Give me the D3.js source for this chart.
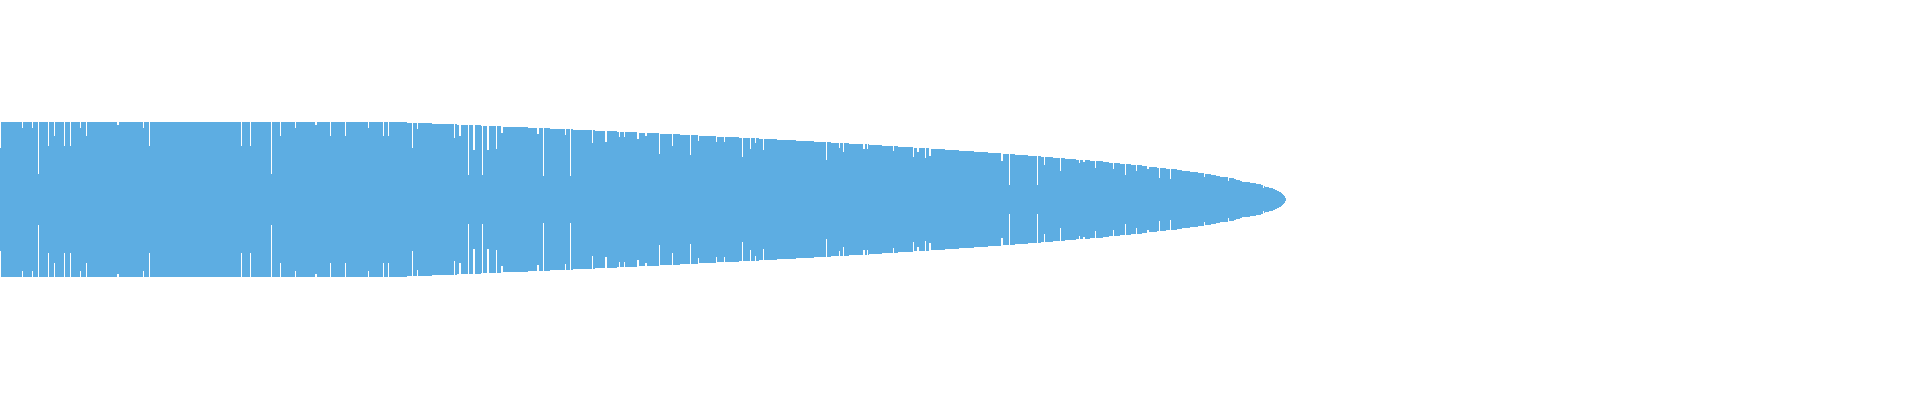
<!DOCTYPE html>
<meta charset="utf-8" />
<script src="https://d3js.org/d3.v7.min.js"></script>
<style>
  body { margin: 0; background: #fff; }
</style>
<div id="chart"></div>
<script>
  // one value per bar, mirrored around the middle line
  const values = [
    /* 0 */ 51,77,77,77,77,77,77,77,77,77, 77,77,77,77,77,77,77,77,77,77,
    /* 20 */ 77,77,71,77,77,77,77,77,77,77, 77,77,71,77,77,77,77,77,25,77,
    /* 40 */ 77,77,77,77,77,77,77,77,53,77, 77,77,77,77,63,77,77,77,77,77,
    /* 60 */ 77,77,77,77,53,77,77,77,77,77, 53,77,77,77,77,77,77,77,77,77,
    /* 80 */ 71,77,77,77,77,77,63,77,77,77, 77,77,77,77,77,77,77,77,77,77,
    /* 100 */ 77,77,77,77,77,77,77,77,77,77, 77,77,77,77,77,77,77,74,74,77,
    /* 120 */ 77,77,77,77,77,77,77,77,77,77, 77,77,77,77,77,77,77,77,77,77,
    /* 140 */ 77,77,77,71,77,77,77,77,77,53, 77,77,77,77,77,77,77,77,77,77,
    /* 160 */ 77,77,77,77,77,77,77,77,77,77, 77,77,77,77,77,77,77,77,77,77,
    /* 180 */ 77,77,77,77,77,77,77,77,77,77, 77,77,77,77,77,77,77,77,77,77,
    /* 200 */ 77,77,77,77,77,77,77,77,77,77, 77,77,77,77,77,77,77,77,77,77,
    /* 220 */ 77,77,77,77,77,77,77,77,77,77, 77,77,77,77,77,77,77,77,77,77,
    /* 240 */ 77,53,77,77,77,77,77,77,77,77, 53,77,77,77,77,77,77,77,77,77,
    /* 260 */ 77,77,77,77,77,77,77,77,77,77, 77,25,77,77,77,77,77,77,77,77,
    /* 280 */ 63,77,77,77,77,77,77,77,77,77, 77,77,77,77,77,71,77,77,77,77,
    /* 300 */ 77,77,77,77,77,77,77,77,77,77, 77,77,77,77,77,74,74,77,77,77,
    /* 320 */ 77,77,77,77,77,77,77,77,77,77, 63,77,77,77,77,77,77,77,77,77,
    /* 340 */ 77,77,77,77,77,63,77,77,77,77, 77,77,77,77,77,77,77,77,77,77,
    /* 360 */ 77,77,77,77,77,77,77,77,71,77, 77,77,77,77,77,77,77,77,77,77,
    /* 380 */ 77,77,77,63,77,77,77,77,63,77, 77,77,77,77,77,77,77,77,77,77,
    /* 400 */ 77,77,77,77,77,77,77,76,76,76, 76,76,51,76,76,76,76,70,76,76,
    /* 420 */ 76,76,76,76,76,76,76,76,76,76, 76,76,75,75,75,75,75,75,75,75,
    /* 440 */ 75,75,75,75,75,75,75,75,75,75, 75,75,75,75,61,75,75,74,74,63,
    /* 460 */ 63,74,74,74,74,74,74,74,24,74, 74,74,74,49,49,74,74,74,74,74,
    /* 480 */ 74,73,24,73,73,73,73,49,49,73, 73,73,73,73,73,73,50,73,73,73,
    /* 500 */ 73,66,66,72,72,72,72,72,72,72, 72,72,72,72,72,72,72,72,72,72,
    /* 520 */ 72,72,72,72,72,72,72,72,71,71, 71,71,71,71,71,71,71,65,65,71,
    /* 540 */ 71,71,71,23,71,71,71,71,71,71, 70,70,70,70,70,70,70,70,70,70,
    /* 560 */ 70,70,70,70,70,64,70,70,70,70, 23,70,70,69,69,69,69,69,69,69,
    /* 580 */ 69,69,69,69,69,69,69,69,69,69, 69,69,56,69,69,68,68,68,68,68,
    /* 600 */ 68,68,68,68,68,57,57,68,68,68, 68,68,68,68,68,68,68,67,67,62,
    /* 620 */ 67,67,67,67,62,67,67,67,67,67, 67,67,67,67,67,67,67,60,60,66,
    /* 640 */ 66,66,66,66,66,63,63,66,66,66, 66,66,66,66,66,66,66,66,66,45,
    /* 660 */ 65,65,65,65,65,65,65,65,65,65, 65,65,53,65,65,65,65,65,65,65,
    /* 680 */ 64,64,64,64,64,64,64,64,64,64, 44,64,64,64,64,64,64,64,58,63,
    /* 700 */ 63,63,63,63,63,63,63,63,63,63, 63,63,63,63,63,63,57,62,62,62,
    /* 720 */ 62,62,62,62,57,62,62,62,62,62, 62,62,62,62,62,62,62,62,62,61,
    /* 740 */ 61,61,42,61,61,61,61,61,61,61, 50,61,61,61,61,56,61,61,61,60,
    /* 760 */ 60,60,60,49,60,60,60,60,60,60, 60,60,60,60,60,60,60,59,59,59,
    /* 780 */ 59,59,59,59,59,59,59,59,59,59, 59,59,59,59,59,59,58,58,58,58,
    /* 800 */ 58,58,58,58,58,58,58,58,58,58, 58,58,58,58,57,57,57,57,57,57,
    /* 820 */ 57,57,57,57,57,57,39,57,57,57, 57,56,56,56,56,56,56,56,56,51,
    /* 840 */ 56,56,56,47,56,56,56,56,56,55, 55,55,55,55,55,55,55,55,55,55,
    /* 860 */ 55,55,55,50,50,55,55,50,55,54, 54,54,54,54,54,54,54,54,54,54,
    /* 880 */ 54,54,53,53,53,53,53,53,53,53, 53,53,53,48,53,53,53,53,52,52,
    /* 900 */ 52,52,52,52,52,52,52,52,52,52, 52,52,52,42,51,51,51,47,47,51,
    /* 920 */ 51,51,51,51,51,41,51,51,51,43, 43,50,50,50,50,50,50,50,50,50,
    /* 940 */ 50,50,50,50,50,49,49,49,49,49, 49,49,49,49,49,49,49,49,49,48,
    /* 960 */ 48,48,48,48,48,48,48,48,48,48, 48,48,48,48,47,47,47,47,47,47,
    /* 980 */ 47,47,47,47,47,47,47,47,46,46, 46,46,46,46,46,46,46,46,46,46,
    /* 1000 */ 46,38,38,45,45,45,45,45,45,14, 45,45,45,45,45,44,44,44,44,44,
    /* 1020 */ 44,44,44,44,44,44,44,44,43,43, 43,43,43,43,43,43,43,14,43,43,
    /* 1040 */ 43,42,42,42,34,42,42,42,42,42, 42,42,42,41,41,41,41,41,41,41,
    /* 1060 */ 28,41,41,41,41,40,40,40,40,40, 40,40,40,40,40,40,39,39,39,36,
    /* 1080 */ 39,39,39,37,37,39,39,39,39,39, 38,38,38,38,38,31,38,38,38,38,
    /* 1100 */ 38,38,38,37,37,37,37,37,37,36, 36,36,36,30,36,36,36,36,36,36,
    /* 1120 */ 35,35,35,35,35,24,35,35,35,35, 35,34,34,34,34,34,28,34,34,34,
    /* 1140 */ 34,34,33,33,33,33,33,30,30,32, 32,32,32,32,32,32,32,31,31,21,
    /* 1160 */ 31,31,31,31,31,31,30,30,30,30, 20,30,30,30,30,30,30,29,29,29,
    /* 1180 */ 29,29,28,28,28,28,28,28,28,28, 27,27,27,27,27,27,27,27,26,26,
    /* 1200 */ 26,26,26,26,22,25,25,25,25,25, 25,24,24,24,24,24,23,23,23,23,
    /* 1220 */ 22,22,22,22,22,22,22,22,18,21, 21,21,21,21,20,20,19,19,19,19,
    /* 1240 */ 18,18,17,17,17,17,17,17,17,17, 16,16,16,16,16,16,15,15,15,15,
    /* 1260 */ 15,14,14,11,13,12,12,12,12,11, 11,11,11,10,10,9,9,8,8,7,
    /* 1280 */ 7,6,5,4,3,1
  ];

  const width = 1920,
    height = 400,
    mid = 199.5;

  const svg = d3
    .select("#chart")
    .append("svg")
    .attr("width", width)
    .attr("height", height)
    .style("display", "block");

  // one pixel column per bar
  const x = d3
    .scaleBand()
    .domain(d3.range(values.length))
    .range([0, values.length]);

  // half height of the mirrored bar
  const h = d3.scaleLinear().domain([0, 77]).range([0, 77.5]);

  svg
    .append("g")
    .attr("shape-rendering", "crispEdges")
    .selectAll("rect")
    .data(values)
    .join("rect")
    .attr("x", (d, i) => x(i))
    .attr("width", x.bandwidth())
    .attr("y", (d) => mid - h(d))
    .attr("height", (d) => 2 * h(d))
    .style("fill", "#5dade2");
</script>
